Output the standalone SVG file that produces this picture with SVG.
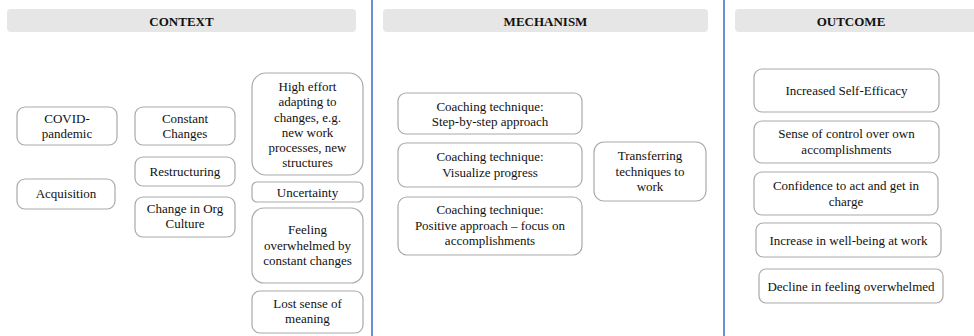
<svg xmlns="http://www.w3.org/2000/svg" width="974" height="336" viewBox="0 0 974 336">
  <style>
    .bg { fill: #ffffff; }
    .hdr { fill: #e6e6e6; }
    .hdr-t { font-family: "Liberation Serif", "Times New Roman", serif; font-size: 13px; font-weight: bold; fill: #111; text-anchor: middle; }
    .box { fill: #ffffff; stroke: #a9a9a9; stroke-width: 1.2; }
    .t { font-family: "Liberation Serif", "Times New Roman", serif; font-size: 13px; fill: #111; text-anchor: middle; }
    .div { stroke: #4a74c0; stroke-width: 1.6; }
  </style>
  <rect class="bg" x="0" y="0" width="974" height="336"/>

  <!-- column dividers -->
  <g id="dividers">
    <line class="div" x1="372" y1="0" x2="372" y2="336"/>
    <line class="div" x1="724" y1="0" x2="724" y2="336"/>
  </g>

  <!-- column headers -->
  <g id="hdr-context">
    <rect class="hdr" x="7" y="9" width="349" height="23" rx="4"/>
    <text class="hdr-t" x="181.5" y="25.5">CONTEXT</text>
  </g>
  <g id="hdr-mechanism">
    <rect class="hdr" x="383" y="9" width="325" height="23" rx="4"/>
    <text class="hdr-t" x="545.5" y="25.5">MECHANISM</text>
  </g>
  <g id="hdr-outcome">
    <rect class="hdr" x="735" y="9" width="245" height="23" rx="4"/>
    <text class="hdr-t" x="851" y="25.5">OUTCOME</text>
  </g>

  <!-- context nodes -->
  <g id="n-covid">
    <rect class="box" x="17" y="107" width="100" height="38" rx="8"/>
    <text class="t" x="67" y="122.5">COVID-</text>
    <text class="t" x="67" y="137.5">pandemic</text>
  </g>
  <g id="n-acquisition">
    <rect class="box" x="17" y="179" width="98" height="30" rx="8"/>
    <text class="t" x="66" y="198">Acquisition</text>
  </g>
  <g id="n-constant">
    <rect class="box" x="135" y="107" width="100" height="38" rx="8"/>
    <text class="t" x="185" y="122.5">Constant</text>
    <text class="t" x="185" y="137.5">Changes</text>
  </g>
  <g id="n-restructuring">
    <rect class="box" x="135" y="157" width="100" height="29" rx="8"/>
    <text class="t" x="185" y="175.5">Restructuring</text>
  </g>
  <g id="n-orgculture">
    <rect class="box" x="135" y="197" width="100" height="40" rx="8"/>
    <text class="t" x="185" y="213">Change in Org</text>
    <text class="t" x="185" y="228">Culture</text>
  </g>
  <g id="n-higheffort">
    <rect class="box" x="252" y="73" width="111" height="102" rx="14"/>
    <text class="t" x="307.5" y="90.5">High effort</text>
    <text class="t" x="307.5" y="106">adapting to</text>
    <text class="t" x="307.5" y="121.5">changes, e.g.</text>
    <text class="t" x="307.5" y="137">new work</text>
    <text class="t" x="307.5" y="152">processes, new</text>
    <text class="t" x="307.5" y="167">structures</text>
  </g>
  <g id="n-uncertainty">
    <rect class="box" x="252" y="182" width="111" height="20" rx="5"/>
    <text class="t" x="307.5" y="196.5">Uncertainty</text>
  </g>
  <g id="n-overwhelmed">
    <rect class="box" x="252" y="208" width="111" height="75" rx="12"/>
    <text class="t" x="307.5" y="234">Feeling</text>
    <text class="t" x="307.5" y="249.5">overwhelmed by</text>
    <text class="t" x="307.5" y="265">constant changes</text>
  </g>
  <g id="n-meaning">
    <rect class="box" x="252" y="291" width="111" height="42" rx="8"/>
    <text class="t" x="307.5" y="307.5">Lost sense of</text>
    <text class="t" x="307.5" y="323">meaning</text>
  </g>

  <!-- mechanism nodes -->
  <g id="n-stepbystep">
    <rect class="box" x="398" y="93" width="184" height="41" rx="8"/>
    <text class="t" x="490" y="110.5">Coaching technique:</text>
    <text class="t" x="490" y="126">Step-by-step approach</text>
  </g>
  <g id="n-visualize">
    <rect class="box" x="398" y="143" width="184" height="44" rx="8"/>
    <text class="t" x="490" y="161">Coaching technique:</text>
    <text class="t" x="490" y="176.5">Visualize progress</text>
  </g>
  <g id="n-positive">
    <rect class="box" x="398" y="197" width="184" height="58" rx="9"/>
    <text class="t" x="490" y="214">Coaching technique:</text>
    <text class="t" x="490" y="229.5">Positive approach – focus on</text>
    <text class="t" x="490" y="245">accomplishments</text>
  </g>
  <g id="n-transfer">
    <rect class="box" x="594" y="142" width="112" height="59" rx="10"/>
    <text class="t" x="650" y="160">Transferring</text>
    <text class="t" x="650" y="175.5">techniques to</text>
    <text class="t" x="650" y="191">work</text>
  </g>

  <!-- outcome nodes -->
  <g id="n-selfefficacy">
    <rect class="box" x="754" y="69" width="185" height="43" rx="8"/>
    <text class="t" x="846.5" y="95">Increased Self-Efficacy</text>
  </g>
  <g id="n-control">
    <rect class="box" x="754" y="121" width="185" height="42" rx="8"/>
    <text class="t" x="846.5" y="138">Sense of control over own</text>
    <text class="t" x="846.5" y="153.5">accomplishments</text>
  </g>
  <g id="n-confidence">
    <rect class="box" x="754" y="172" width="184" height="43" rx="8"/>
    <text class="t" x="846" y="190">Confidence to act and get in</text>
    <text class="t" x="846" y="205.5">charge</text>
  </g>
  <g id="n-wellbeing">
    <rect class="box" x="756" y="223" width="185" height="34" rx="7"/>
    <text class="t" x="848.5" y="244.5">Increase in well-being at work</text>
  </g>
  <g id="n-decline">
    <rect class="box" x="759" y="269" width="184" height="34" rx="7"/>
    <text class="t" x="851" y="290.5">Decline in feeling overwhelmed</text>
  </g>

  <!-- connectors (none drawn between nodes) -->
  <g id="connectors"/>
</svg>
